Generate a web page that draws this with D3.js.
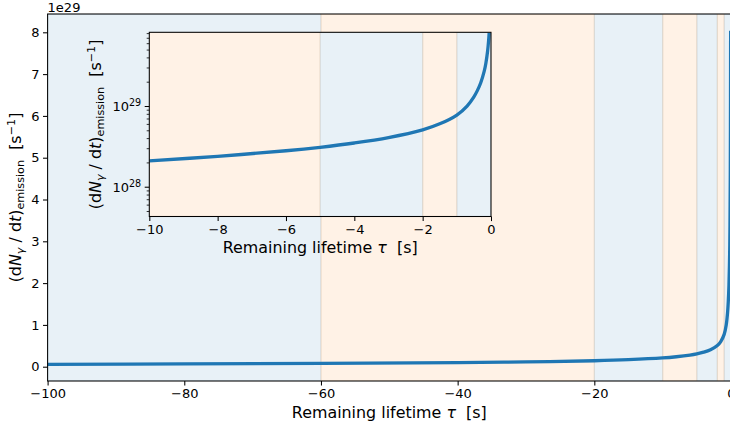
<!DOCTYPE html>
<html>
<head>
<meta charset="utf-8">
<script src="https://cdn.jsdelivr.net/npm/d3@7"></script>
<style>
  body { margin: 0; background: #fff; overflow: hidden; }
  svg { display: block; }
  text { font-family: "DejaVu Sans", sans-serif; fill: #000; white-space: pre; }
</style>
</head>
<body>
<svg id="chart" width="730" height="429"></svg>
<script>
// Photon emission rate of an evaporating black hole vs. remaining lifetime
const tau  = [-100, -80, -60, -40, -30, -20, -15, -10, -8, -6, -5, -4, -3, -2, -1.5, -1, -0.7, -0.5, -0.4, -0.3,
              -0.2, -0.15, -0.1, -0.07, -0.054];
const rate = [5.8e27, 6.6e27, 7.8e27, 9.7e27, 1.14e28, 1.42e28, 1.67e28, 2.09e28, 2.38e28, 2.79e28, 3.08e28, 3.48e28, 4.06e28,
              5.06e28, 6.01e28, 7.73e28, 9.99e28, 1.30e29, 1.55e29, 1.94e29, 2.68e29, 3.39e29, 4.76e29, 6.45e29, 8.04e29];

// Shaded lifetime intervals (alternating colours)
const bandEdges = [-100, -60, -20, -10, -5, -2, -1, 0];

const mainXTicks  = [-100, -80, -60, -40, -20, 0];
const mainYTicks  = [0, 1e29, 2e29, 3e29, 4e29, 5e29, 6e29, 7e29, 8e29];
const insetXTicks = [-10, -8, -6, -4, -2, 0];
const insetYMajor = [1e28, 1e29];
const offsetText  = "1e29";

const C0 = "#1f77b4", C1 = "#ff7f0e";
const FONT_TICK = 13, FONT_LABEL = 15.9, FONT_SUB = 11.2;

const svg = d3.select("#chart");
const main = { left: 47.6, right: 731, top: 14, bottom: 381 };
const ins  = { left: 149.3, right: 491, top: 32.3, bottom: 216.5 };

const x  = d3.scaleLinear().domain([-100, 0]).range([main.left, main.right]);
const y  = d3.scaleLinear().domain([-0.342e29, 8.438e29]).range([main.bottom, main.top]);
const xi = d3.scaleLinear().domain([-10, 0]).range([ins.left, ins.right]);
const yi = d3.scaleLog().domain([Math.pow(10, 27.631), Math.pow(10, 29.913)]).range([ins.bottom, ins.top]);

const minus = v => (v < 0 ? "\u2212" + Math.abs(v) : String(v));
const points = tau.map((t, i) => [t, rate[i]]);
const smooth = d3.curveCatmullRom.alpha(0.5);

const defs = svg.append("defs");
defs.append("clipPath").attr("id", "clipMain").append("rect")
  .attr("x", main.left).attr("y", main.top)
  .attr("width", main.right - main.left).attr("height", main.bottom - main.top);
defs.append("clipPath").attr("id", "clipInset").append("rect")
  .attr("x", ins.left).attr("y", ins.top)
  .attr("width", ins.right - ins.left).attr("height", ins.bottom - ins.top);

function drawBands(g, xs, box) {
  const [lo, hi] = xs.domain();
  for (let i = 0; i < bandEdges.length - 1; i++) {
    const a = Math.max(bandEdges[i], lo), b = Math.min(bandEdges[i + 1], hi);
    if (b <= a) continue;
    const c = i % 2 === 0 ? C0 : C1;
    g.append("rect")
      .attr("x", xs(a)).attr("y", box.top)
      .attr("width", xs(b) - xs(a)).attr("height", box.bottom - box.top)
      .attr("fill", c).attr("fill-opacity", 0.1)
      .attr("stroke", c).attr("stroke-opacity", 0.1).attr("stroke-width", 1.3);
  }
}

function styleAxis(g) {
  g.select(".domain").remove();
  g.selectAll(".tick line").attr("stroke", "#000").attr("stroke-width", 1.05);
  g.selectAll(".tick text").attr("font-size", FONT_TICK).attr("font-family", "DejaVu Sans");
}

function addLabel(sel, parts) {
  parts.forEach(p => {
    const t = sel.append("tspan").text(p.t);
    if (p.i) t.attr("font-style", "italic");
    if (p.s) t.attr("font-size", p.s);
    if (p.dy) t.attr("dy", p.dy);
  });
}

const xLabelParts = [{ t: "Remaining lifetime " }, { t: "\u03c4", i: 1 }, { t: "  [s]" }];
const yLabelParts = [
  { t: "(d" }, { t: "N", i: 1 }, { t: "\u03b3", i: 1, s: FONT_SUB, dy: 3 },
  { t: " / d", dy: -3 }, { t: "t", i: 1 }, { t: ")" },
  { t: "emission", s: FONT_SUB, dy: 3 },
  { t: "  [s", dy: -3 }, { t: "\u22121", s: FONT_SUB, dy: -6 }, { t: "]", dy: 6 }
];

// ---------- main axes ----------
const gMain = svg.append("g");
drawBands(gMain.append("g").attr("clip-path", "url(#clipMain)"), x, main);

gMain.append("path")
  .datum(points)
  .attr("clip-path", "url(#clipMain)")
  .attr("fill", "none").attr("stroke", C0).attr("stroke-width", 3.3)
  .attr("stroke-linejoin", "round")
  .attr("d", d3.line().x(d => x(d[0])).y(d => y(d[1])).curve(smooth));

gMain.append("rect")
  .attr("x", main.left).attr("y", main.top)
  .attr("width", main.right - main.left).attr("height", main.bottom - main.top)
  .attr("fill", "none").attr("stroke", "#000").attr("stroke-width", 1.05);

gMain.append("g").attr("transform", `translate(0,${main.bottom})`)
  .call(d3.axisBottom(x).tickValues(mainXTicks).tickSize(4.6).tickPadding(3.5).tickFormat(minus))
  .call(styleAxis);

gMain.append("g").attr("transform", `translate(${main.left},0)`)
  .call(d3.axisLeft(y).tickValues(mainYTicks).tickSize(4.6).tickPadding(3.5).tickFormat(d => String(Math.round(d / 1e29))))
  .call(styleAxis);

svg.append("text").attr("x", main.left).attr("y", 11.8).attr("font-size", FONT_TICK).text(offsetText);

const xl = svg.append("text").attr("x", (main.left + main.right) / 2).attr("y", main.bottom + 37.3)
  .attr("text-anchor", "middle").attr("font-size", FONT_LABEL);
addLabel(xl, xLabelParts);

const yl = svg.append("text").attr("transform", `translate(20.7,${(main.top + main.bottom) / 2}) rotate(-90)`)
  .attr("text-anchor", "middle").attr("font-size", FONT_LABEL);
addLabel(yl, yLabelParts);

// ---------- inset axes ----------
const gIns = svg.append("g");
gIns.append("rect")
  .attr("x", ins.left).attr("y", ins.top)
  .attr("width", ins.right - ins.left).attr("height", ins.bottom - ins.top)
  .attr("fill", "#fff");
drawBands(gIns.append("g").attr("clip-path", "url(#clipInset)"), xi, ins);

gIns.append("path")
  .datum(points.filter(d => d[0] >= -10))
  .attr("clip-path", "url(#clipInset)")
  .attr("fill", "none").attr("stroke", C0).attr("stroke-width", 3.3)
  .attr("stroke-linejoin", "round")
  .attr("d", d3.line().x(d => xi(d[0])).y(d => yi(d[1])).curve(smooth));

gIns.append("rect")
  .attr("x", ins.left).attr("y", ins.top)
  .attr("width", ins.right - ins.left).attr("height", ins.bottom - ins.top)
  .attr("fill", "none").attr("stroke", "#000").attr("stroke-width", 1.05);

gIns.append("g").attr("transform", `translate(0,${ins.bottom})`)
  .call(d3.axisBottom(xi).tickValues(insetXTicks).tickSize(4.6).tickPadding(3.5).tickFormat(minus))
  .call(styleAxis);

// log minor ticks
const minorTicks = yi.ticks().filter(v => !insetYMajor.some(m => Math.abs(v / m - 1) < 1e-6));
gIns.append("g").attr("transform", `translate(${ins.left},0)`)
  .call(d3.axisLeft(yi).tickValues(minorTicks).tickSize(2.6).tickFormat(""))
  .call(g => { g.select(".domain").remove(); g.selectAll(".tick line").attr("stroke", "#000").attr("stroke-width", 0.8); });

const yMaj = gIns.append("g").attr("transform", `translate(${ins.left},0)`)
  .call(d3.axisLeft(yi).tickValues(insetYMajor).tickSize(4.6).tickPadding(3.5).tickFormat(""))
  .call(styleAxis);
yMaj.selectAll(".tick").each(function (d) {
  const t = d3.select(this).select("text").attr("dy", "0.35em").attr("text-anchor", "end");
  t.text("");
  t.append("tspan").text("10");
  t.append("tspan").attr("font-size", 9.6).attr("dy", -4.6).text(String(Math.round(Math.log10(d))));
});

const xli = svg.append("text").attr("x", (ins.left + ins.right) / 2).attr("y", ins.bottom + 36.8)
  .attr("text-anchor", "middle").attr("font-size", FONT_LABEL);
addLabel(xli, xLabelParts);

const yli = svg.append("text").attr("transform", `translate(100.7,${(ins.top + ins.bottom) / 2}) rotate(-90)`)
  .attr("text-anchor", "middle").attr("font-size", FONT_LABEL);
addLabel(yli, yLabelParts);
</script>
</body>
</html>
